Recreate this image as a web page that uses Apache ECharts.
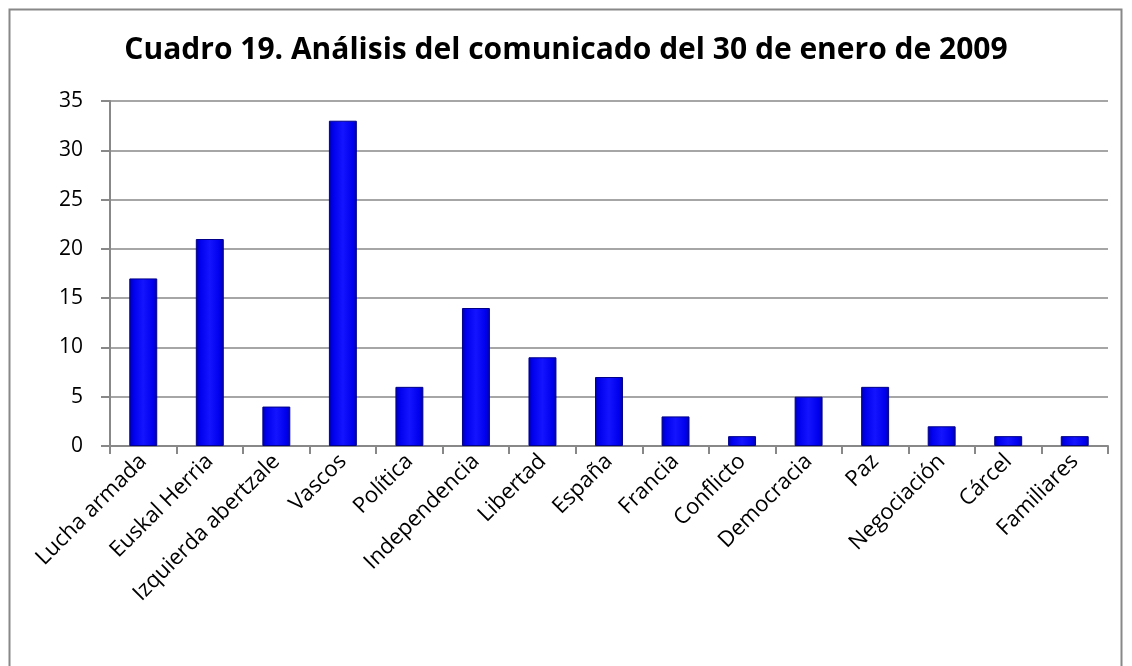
<!DOCTYPE html>
<html><head><meta charset="utf-8">
<script src="https://cdn.jsdelivr.net/npm/echarts@6/dist/echarts.min.js"></script>
<style>html,body{margin:0;padding:0;background:#fff}#c{width:1132px;height:666px}</style>
</head><body><div id="c"></div>
<script>
const categories = ["Lucha armada","Euskal Herria","Izquierda abertzale","Vascos","Política","Independencia","Libertad","España","Francia","Conflicto","Democracia","Paz","Negociación","Cárcel","Familiares"];
const values = [17,21,4,33,6,14,9,7,3,1,5,6,2,1,1];
const yTicks = {min:0, max:35, interval:5};
const titleText = "Cuadro 19. Análisis del comunicado del 30 de enero de 2009";

const chart = echarts.init(document.getElementById('c'));
const font = "'Open Sans', 'Liberation Sans', sans-serif";
chart.setOption({
  animation:false,
  backgroundColor:'#fff',
  title:{text:titleText,left:'center',top:30,textStyle:{fontFamily:font,fontWeight:'bold',fontSize:30,color:'#000'}},
  graphic:[{type:'rect',shape:{x:9.5,y:9.5,width:1112,height:680},style:{fill:null,stroke:'#888',lineWidth:2},silent:true,z:-1}],
  grid:{left:110,right:24,top:101,bottom:220,containLabel:false},
  xAxis:{type:'category',data:categories,boundaryGap:true,
    axisLine:{lineStyle:{color:'#888',width:2}},
    axisTick:{show:true,alignWithLabel:false,length:8,lineStyle:{color:'#888',width:2}},
    axisLabel:{rotate:45,fontFamily:font,fontSize:22,color:'#000',margin:12,interval:0}},
  yAxis:{type:'value',min:yTicks.min,max:yTicks.max,interval:yTicks.interval,
    axisLine:{show:true,lineStyle:{color:'#888',width:2}},
    axisTick:{show:true,length:9,lineStyle:{color:'#888',width:2}},
    axisLabel:{fontFamily:font,fontSize:21,color:'#000',margin:27},
    splitLine:{lineStyle:{color:'#888',width:1.5}}},
  series:[{type:'bar',data:values,barWidth:'42%',
    itemStyle:{color:new echarts.graphic.LinearGradient(0,0,1,0,[
      {offset:0,color:'#0000a8'},{offset:0.15,color:'#0000ee'},{offset:0.5,color:'#1414ff'},{offset:0.85,color:'#0000ee'},{offset:1,color:'#0000a8'}]),
      borderColor:'#00008a',borderWidth:1}}]
});
</script></body></html>
